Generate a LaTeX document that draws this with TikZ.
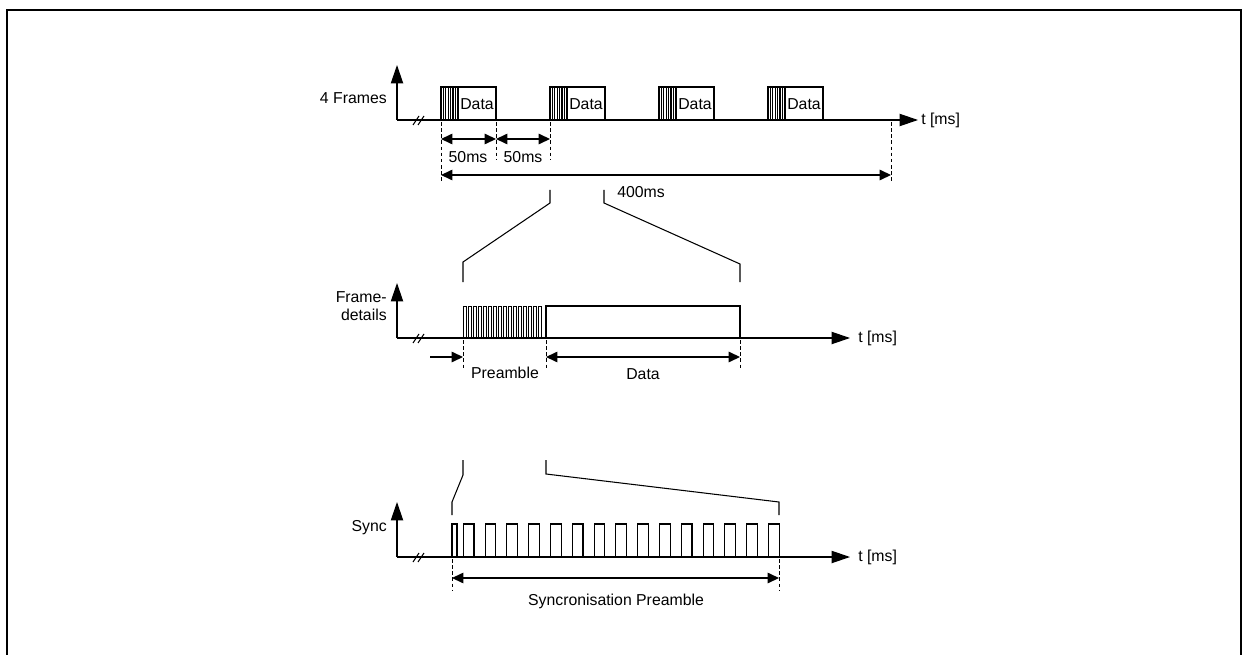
\documentclass[tikz,border=0pt]{standalone}
\usepackage{fontspec}
\setmainfont{Liberation Sans}
\usetikzlibrary{arrows.meta,positioning}
\tikzset{axis/.style={-{Triangle[length=10.5pt,width=7pt]}, line width=0.7pt}}
\tikzset{dimline/.style={{Triangle[length=6.5pt,width=6pt]}-{Triangle[length=6.5pt,width=6pt]}, line width=0.7pt}}
\tikzset{dimhalf/.style={-{Triangle[length=6.5pt,width=6pt]}, line width=0.7pt}}
\tikzset{guide/.style={line width=0.5pt, dash pattern=on 2pt off 1.5pt}}
\tikzset{lbl/.style={font=\fontsize{9}{10.5}\selectfont, inner sep=1pt}}

\begin{document}
\begin{tikzpicture}[x=0.02cm,y=-0.02cm,line width=0.6pt]
  \useasboundingbox (0,0) rectangle (1243,655);
  \draw[line width=0.8pt] (7,655) -- (7,10) -- (1241,10) -- (1241,655);

  % 4 frames
  \coordinate (o1) at (397,120);
  \draw[axis] (o1) -- ++(0,-55);
  \draw[axis] (o1) -- (918,120) coordinate (t1);
  \node[lbl, anchor=west] (tlbl1) at (919,120) {t [ms]};
  \node[lbl, anchor=east] (frames) at (389,98) {4 Frames};
  \foreach \dx in {0,5} \draw (413+\dx,125) -- ++(6,-9);
  \foreach \x [count=\i] in {441,550,659,768} {
    \coordinate (fr\i) at (\x,120);
    \draw (fr\i) rectangle ++(55,-33);
    \foreach \k in {1,...,6} \draw[line width=0.75pt] (\x+2.4*\k,120) -- ++(0,-33);
    \draw[line width=1.1pt] (\x+17,120) -- ++(0,-33);
    \node[lbl] (data\i) at (\x+36,104) {Data};
  }
  \draw[guide] (441,122) -- (441,183);
  \draw[guide] (496,122) -- (496,160);
  \draw[guide] (550,122) -- (550,160);
  \draw[guide] (891,122) -- (891,183);
  \draw[dimline] (441,139) -- (496,139);
  \draw[dimline] (496,139) -- (550,139);
  \draw[dimline] (441,175) -- (891,175);
  \node[lbl] (gap1) at (468,157) {50ms};
  \node[lbl] (gap2) at (523,157) {50ms};
  \node[lbl] (total) at (641,192) {400ms};

  \draw (550,190) -- (550,203) -- (463,262) -- (463,282);
  \draw (604,190) -- (604,203) -- (740,264) -- (740,282);

  % frame details
  \coordinate (o2) at (397,338);
  \draw[axis] (o2) -- ++(0,-55);
  \draw[axis] (o2) -- (850,338) coordinate (t2);
  \node[lbl, anchor=west] (tlbl2) at (856,338) {t [ms]};
  \node[lbl, anchor=east, align=right] (details) at (389,306) {Frame-\\details};
  \foreach \dx in {0,5} \draw (413+\dx,343) -- ++(6,-9);
  \foreach \k in {0,...,15} \draw[line width=0.55pt] (463+5*\k,338) rectangle ++(3.4,-32);
  \draw (546,338) rectangle (740,306);
  \draw[guide] (463,340) -- (463,370);
  \draw[guide] (546,340) -- (546,370);
  \draw[guide] (740,340) -- (740,370);
  \draw[dimhalf] (430,357) -- (463,357);
  \draw[dimline] (546,357) -- (740,357);
  \node[lbl] (pre) at (505,373) {Preamble};
  \node[lbl] (dat) at (643,374) {Data};

  \draw (463,460) -- (463,475) -- (452,502) -- (452,515);
  \draw (546,460) -- (546,474) -- (779,502) -- (779,515);

  % sync
  \coordinate (o3) at (397,557);
  \draw[axis] (o3) -- ++(0,-55);
  \draw[axis] (o3) -- (850,557) coordinate (t3);
  \node[lbl, anchor=west] (tlbl3) at (856,557) {t [ms]};
  \node[lbl, anchor=east] (sync) at (389,528) {Sync};
  \foreach \dx in {0,5} \draw (413+\dx,562) -- ++(6,-9);
  \draw (452,557) rectangle (457,524);
  \foreach \k in {0,...,14} \draw (463.3+21.8*\k,557) rectangle ++(10.7,-33);
  \draw[guide] (452,559) -- (452,590);
  \draw[guide] (779,559) -- (779,590);
  \draw[dimline] (452,578) -- (779,578);
  \node[lbl] (syncpre) at (616,601) {Syncronisation Preamble};
\end{tikzpicture}
\end{document}
